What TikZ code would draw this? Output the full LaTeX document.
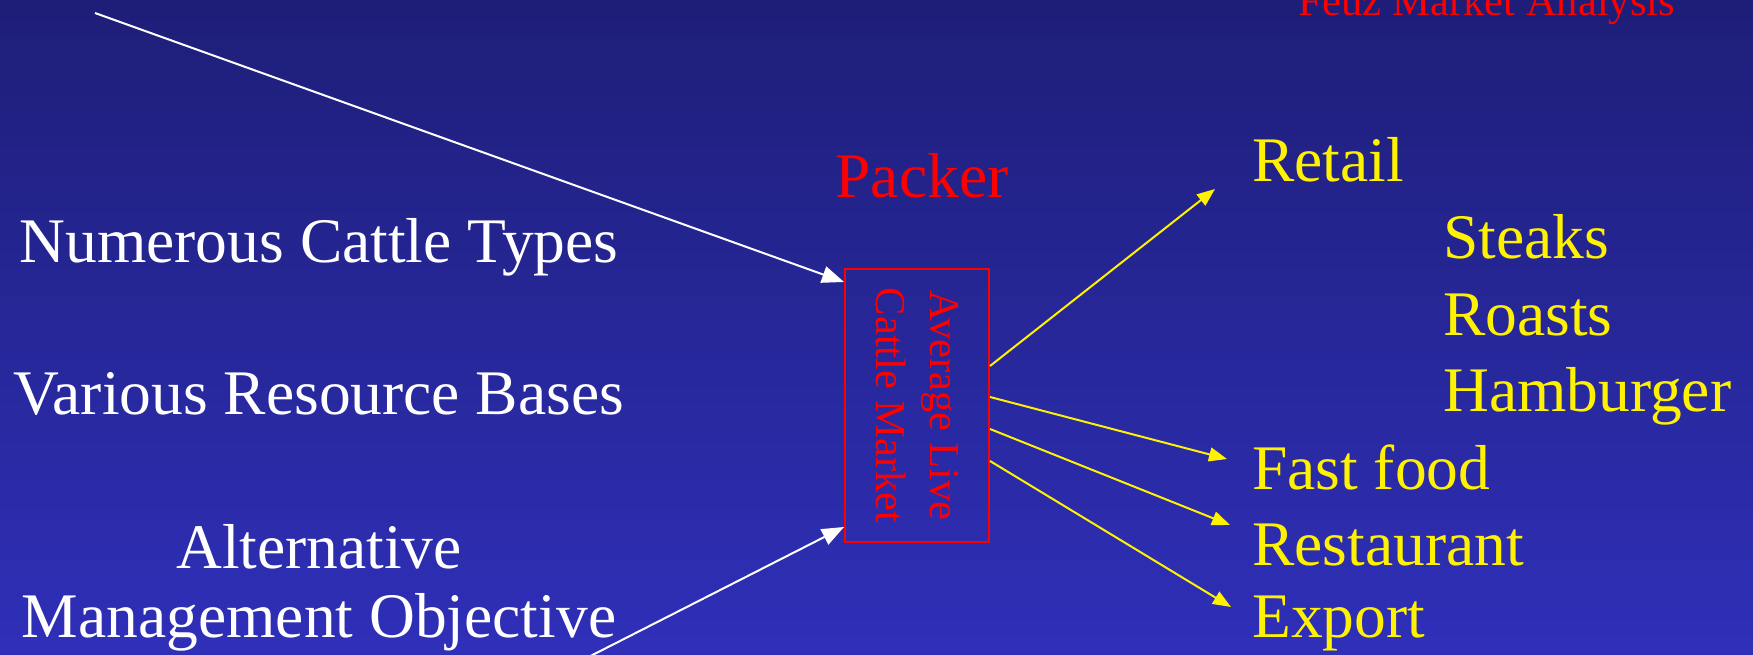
\documentclass[tikz,border=0pt]{standalone}
\usepackage{fontspec}
\setmainfont{Liberation Serif}
\usetikzlibrary{arrows.meta}
\definecolor{bgtop}{RGB}{30,30,120}
\definecolor{bgbot}{RGB}{47,47,185}
\begin{document}
\begin{tikzpicture}[x=1pt,y=-1pt,
  bigtext/.style={inner sep=0pt, font=\fontsize{63.5}{76}\selectfont},
  wtext/.style={bigtext, text=white, anchor=base},
  ytext/.style={bigtext, text=yellow, anchor=base west},
  warrow/.style={draw=white, line width=2pt, -{Triangle[length=22pt,width=17pt]}},
  yarrow/.style={draw=yellow, line width=2pt, -{Triangle[length=18pt,width=14pt]}},
  marketbox/.style={draw=red, line width=2pt, minimum width=144pt, minimum height=273pt, inner sep=0pt}]
  % background
  \shade[top color=bgtop, bottom color=bgbot] (0,0) rectangle (1753,655);
  \useasboundingbox (0,0) rectangle (1753,655);
  \clip (0,0) rectangle (1753,655);

  % title
  \node[inner sep=0pt, anchor=base, text=red, font=\fontsize{42.6}{50}\selectfont] (title) at (1487,16) {Feuz Market Analysis};

  % left-hand inputs
  \node[wtext] (types) at (319,262) {Numerous Cattle Types};
  \node[wtext] (bases) at (319,414) {Various Resource Bases};
  \node[wtext] (alt) at (319,568) {Alternative};
  \node[wtext] (mgmt) at (319,637) {Management Objective};

  % packer and market box
  \node[inner sep=0pt, anchor=base, text=red, font=\fontsize{63.5}{76}\selectfont] (packer) at (922,198) {Packer};
  \node[marketbox] (box) at (917,405.5) {};
  \node[rotate=-90, inner sep=0pt, text=red, align=center, font=\fontsize{42.6}{54}\selectfont] (boxlabel) at (box.center) {Average Live\\Cattle Market};

  % outlets
  \node[ytext] (retail) at (1252,182) {Retail};
  \node[ytext] (steaks) at (1443,258) {Steaks};
  \node[ytext] (roasts) at (1443,335) {Roasts};
  \node[ytext] (hamb) at (1443,411) {Hamburger};
  \node[ytext] (fast) at (1252,489) {Fast food};
  \node[ytext] (rest) at (1252,565) {Restaurant};
  \node[ytext] (export) at (1252,637) {Export};

  % connector ends
  \coordinate (topstart) at (95,13);
  \coordinate (botstart) at (563,670);
  \coordinate (tRetail) at (1215,189);
  \coordinate (tFast) at (1227,459);
  \coordinate (tRest) at (1230,525);
  \coordinate (tExport) at (1231,607);

  % inputs to the market
  \draw[warrow] (topstart) -- ([yshift=-14pt]box.north west);
  \draw[warrow] (botstart) -- ([yshift=16pt]box.south west);

  % market to outlets
  \draw[yarrow] ([yshift=39.5pt]box.east) -- (tRetail);
  \draw[yarrow] ([yshift=8.5pt]box.east) -- (tFast);
  \draw[yarrow] ([yshift=-23.5pt]box.east) -- (tRest);
  \draw[yarrow] ([yshift=-55.5pt]box.east) -- (tExport);
\end{tikzpicture}
\end{document}
